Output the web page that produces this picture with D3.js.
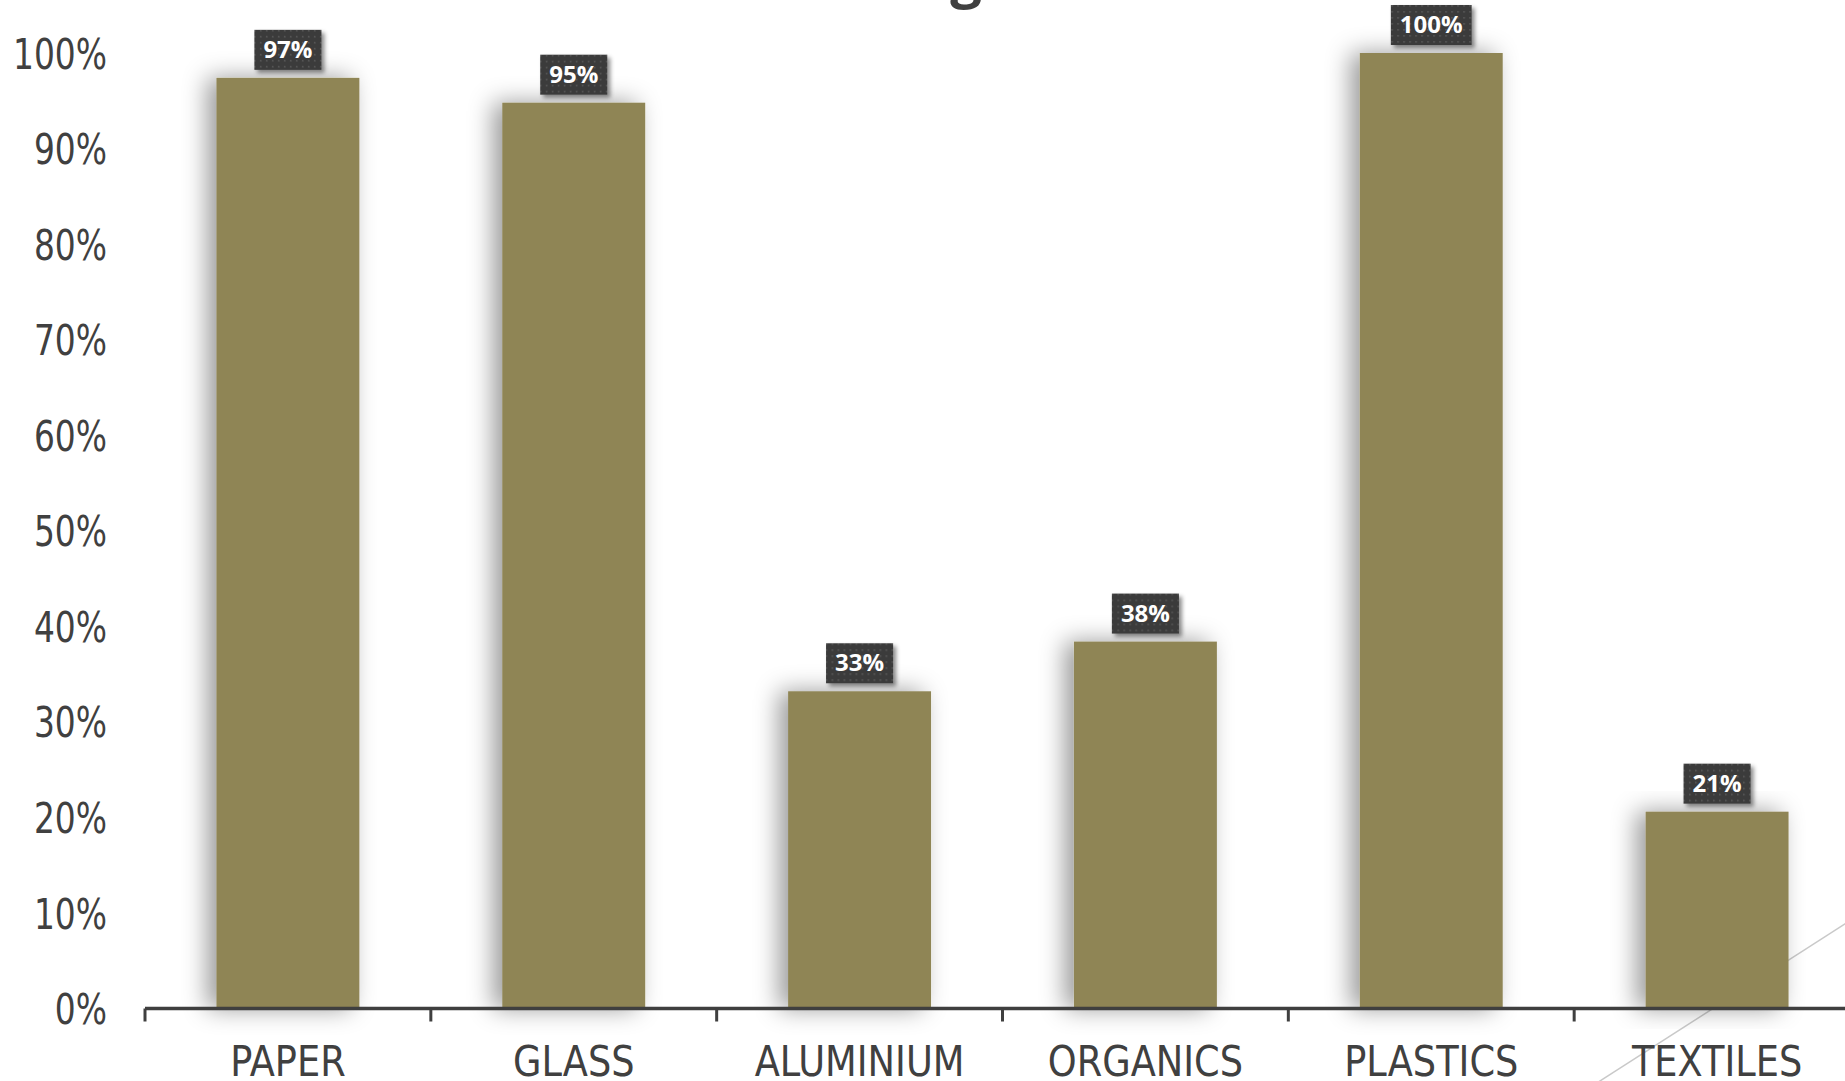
<!DOCTYPE html>
<html>
<head>
<meta charset="utf-8">
<script src="https://cdn.jsdelivr.net/npm/d3@7"></script>
<style>
  html, body { margin: 0; padding: 0; background: #ffffff; overflow: hidden; }
  svg { display: block; }
</style>
</head>
<body>
<svg id="chart" width="1845" height="1081"></svg>
<script>
// ---- data ----
const categories = ["PAPER", "GLASS", "ALUMINIUM", "ORGANICS", "PLASTICS", "TEXTILES"];
const values = [0.974, 0.948, 0.332, 0.384, 1.0, 0.206];
const yTicks = [0, 0.1, 0.2, 0.3, 0.4, 0.5, 0.6, 0.7, 0.8, 0.9, 1.0];
const titleText = "Sorting";

// ---- layout ----
const W = 1845, H = 1081;
const x0 = 145, x1 = 1860;
const yBottom = 1008.5, yTop = 53;
const barColor = "#8f8555";
const textColor = "#404040";
const axisFont = "'Liberation Sans Narrow', 'DejaVu Sans Condensed', 'Arial Narrow', sans-serif";

const svg = d3.select("#chart");
const defs = svg.append("defs");

// soft bar shadow (cast to the left)
const fBar = defs.append("filter").attr("id", "barShadow")
  .attr("x", "-50%").attr("y", "-10%").attr("width", "200%").attr("height", "120%");
fBar.append("feGaussianBlur").attr("in", "SourceAlpha").attr("stdDeviation", 12).attr("result", "blur");
fBar.append("feOffset").attr("in", "blur").attr("dx", -9).attr("dy", 0).attr("result", "off");
fBar.append("feFlood").attr("flood-color", "#000").attr("flood-opacity", 0.4).attr("result", "col");
fBar.append("feComposite").attr("in", "col").attr("in2", "off").attr("operator", "in").attr("result", "sh");
const m1 = fBar.append("feMerge");
m1.append("feMergeNode").attr("in", "sh");
m1.append("feMergeNode").attr("in", "SourceGraphic");

// label box shadow
const fBox = defs.append("filter").attr("id", "boxShadow")
  .attr("x", "-30%").attr("y", "-30%").attr("width", "160%").attr("height", "160%");
fBox.append("feDropShadow").attr("dx", 3).attr("dy", 3).attr("stdDeviation", 2)
  .attr("flood-color", "#000").attr("flood-opacity", 0.45);

// dotted pattern for label boxes
const pat = defs.append("pattern").attr("id", "dots").attr("patternUnits", "userSpaceOnUse")
  .attr("width", 6).attr("height", 6);
pat.append("rect").attr("width", 6).attr("height", 6).attr("fill", "#3b3b3b");
pat.append("rect").attr("x", 2).attr("y", 2).attr("width", 1.6).attr("height", 1.6).attr("fill", "#585858");

// ---- scales ----
const x = d3.scaleBand().domain(categories).range([x0, x1]).paddingInner(0.5).paddingOuter(0.25);
const y = d3.scaleLinear().domain([0, 1]).range([yBottom, yTop]);

// decorative diagonal line (behind bars)
svg.append("line")
  .attr("x1", 1560).attr("y1", 1106.6).attr("x2", 1900).attr("y2", 888.6)
  .attr("stroke", "#c9c9c9").attr("stroke-width", 1.5);

// title (mostly above the visible area)
svg.append("text")
  .attr("x", 982).attr("y", -3)
  .attr("text-anchor", "end")
  .attr("font-family", "'Open Sans', sans-serif")
  .attr("font-weight", 700)
  .attr("font-size", 56)
  .attr("fill", textColor)
  .text(titleText);

// y-axis labels (no line)
const yAxis = d3.axisLeft(y).tickValues(yTicks).tickFormat(d3.format(".0%")).tickSize(0).tickPadding(0);
const gy = svg.append("g").attr("transform", "translate(107,0)").call(yAxis);
gy.select(".domain").remove();
gy.selectAll("text")
  .attr("font-family", axisFont).attr("font-size", 42).attr("fill", textColor)
  .attr("dy", "0.36em")
  .attr("transform", "scale(0.87,1)");

// bars
svg.append("g").selectAll("rect").data(categories).join("rect")
  .attr("x", d => x(d))
  .attr("y", (d, i) => y(values[i]))
  .attr("width", x.bandwidth())
  .attr("height", (d, i) => y(0) - y(values[i]))
  .attr("fill", barColor)
  .attr("filter", "url(#barShadow)");

// x axis
const step = x.step();
const xAxis = d3.axisBottom(x).tickSize(0).tickPadding(0);
const gx = svg.append("g").attr("transform", `translate(0,${yBottom})`).call(xAxis);
gx.select(".domain").remove();
gx.append("line").attr("x1", x0).attr("x2", W + 20).attr("y1", 0).attr("y2", 0)
  .attr("stroke", "#3f3f3f").attr("stroke-width", 3.5);
gx.selectAll(".tick line").remove();
gx.selectAll(".sep").data(categories).join("line").attr("class", "sep")
  .attr("x1", d => x(d) - step * 0.25).attr("x2", d => x(d) - step * 0.25)
  .attr("y1", 0).attr("y2", 13)
  .attr("stroke", "#3f3f3f").attr("stroke-width", 3);
gx.selectAll(".tick text")
  .attr("font-family", axisFont).attr("font-size", 43).attr("fill", textColor)
  .attr("y", 68).attr("dy", 0)
  .attr("transform", "scale(0.95,1)");

// value labels
const fmt = d3.format(".0%");
const lg = svg.append("g").selectAll("g").data(categories).join("g")
  .attr("transform", (d, i) => `translate(${x(d) + x.bandwidth() / 2},${y(values[i]) - 8})`);
lg.each(function (d, i) {
  const g = d3.select(this);
  const t = g.append("text")
    .attr("text-anchor", "middle")
    .attr("font-family", "'Open Sans', sans-serif")
    .attr("font-weight", 700)
    .attr("font-size", 24)
    .attr("fill", "#ffffff")
    .attr("y", -12)
    .text(fmt(values[i]));
  const w = t.node().getComputedTextLength() + 18;
  g.insert("rect", "text")
    .attr("x", -w / 2).attr("y", -40).attr("width", w).attr("height", 40)
    .attr("fill", "url(#dots)")
    .attr("filter", "url(#boxShadow)");
});
</script>
</body>
</html>
